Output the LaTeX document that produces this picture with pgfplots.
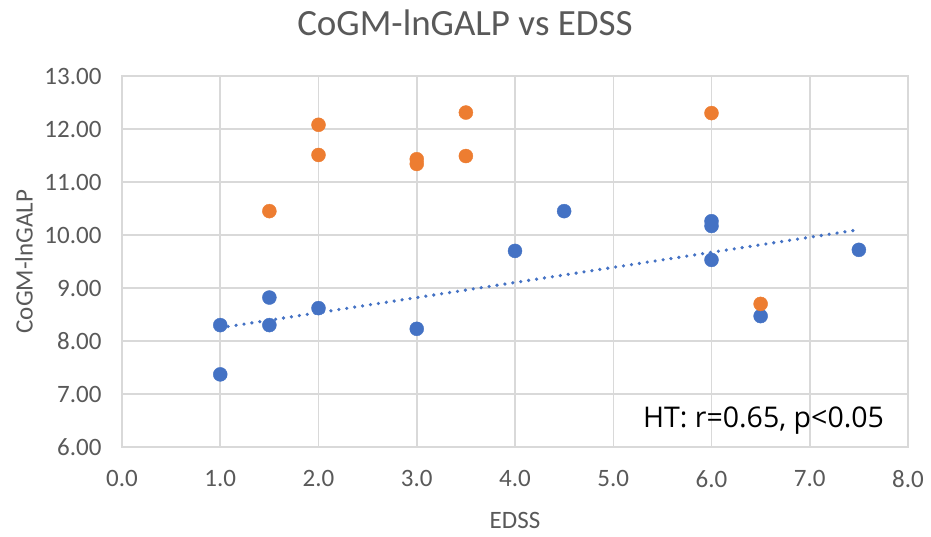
\documentclass[border=0pt]{standalone}
\usepackage{pgfplots}
\pgfplotsset{compat=1.18}
\usepackage{fontspec}
\setmainfont{Carlito}
\newfontfamily\notefont{Open Sans}
\definecolor{xlblue}{HTML}{4472C4}
\definecolor{xlorange}{HTML}{ED7D31}
\definecolor{xlgrid}{HTML}{D9D9D9}
\definecolor{xltext}{HTML}{595959}
\begin{document}
\begin{tikzpicture}
\useasboundingbox (-122pt,-89pt) rectangle (809pt,447pt);
\begin{axis}[
  scale only axis, width=786pt, height=371pt,
  xmin=0, xmax=8, ymin=6, ymax=13,
  xtick={0,1,...,8}, ytick={6,7,...,13},
  grid=major, major grid style={xlgrid, line width=1.5pt},
  axis line style={xlgrid, line width=1.5pt},
  major tick length=0pt,
  tick label style={font=\fontsize{25}{30}\selectfont, text=xltext},
  xticklabel style={yshift=-20pt},
  yticklabel style={xshift=-17pt},
  /pgf/number format/assume math mode=true,
  x tick label style={/pgf/number format/.cd, fixed, fixed zerofill, precision=1},
  y tick label style={/pgf/number format/.cd, fixed, fixed zerofill, precision=2},
  xlabel={EDSS}, ylabel={CoGM-lnGALP},
  label style={font=\fontsize{25}{30}\selectfont, text=xltext},
  xlabel style={at={(rel axis cs:0.5,0)}, anchor=center, yshift=-73pt},
  ylabel style={at={(rel axis cs:0,0.5)}, anchor=center, xshift=0pt, yshift=98pt},
  clip=false,
]
% trendline of the blue series
\addplot[xlblue, line width=3.6pt, line cap=round, dash pattern=on 0pt off 8pt] coordinates {(1,8.25) (7.5,10.10)};
% blue series
\addplot[only marks, mark=*, mark size=7pt, color=xlblue] coordinates {
  (1.0,8.30) (1.0,7.37) (1.5,8.82) (1.5,8.30) (2.0,8.62) (3.0,8.23)
  (4.0,9.70) (4.5,10.45) (6.0,10.26) (6.0,10.17) (6.0,9.53) (6.5,8.47) (7.5,9.72)};
% orange series
\addplot[only marks, mark=*, mark size=7pt, color=xlorange] coordinates {
  (1.5,10.45) (2.0,12.08) (2.0,11.51) (3.0,11.43) (3.0,11.34)
  (3.5,12.31) (3.5,11.49) (6.0,12.30) (6.5,8.70)};
\node[font=\notefont\fontsize{28.5}{32}\selectfont, text=black] at (axis cs:6.53,6.50) {HT: r=0.65, p<0.05};
\end{axis}
\node[font=\fontsize{37}{42}\selectfont, text=xltext] at (343pt,424pt) {CoGM-lnGALP vs EDSS};
\end{tikzpicture}
\end{document}
